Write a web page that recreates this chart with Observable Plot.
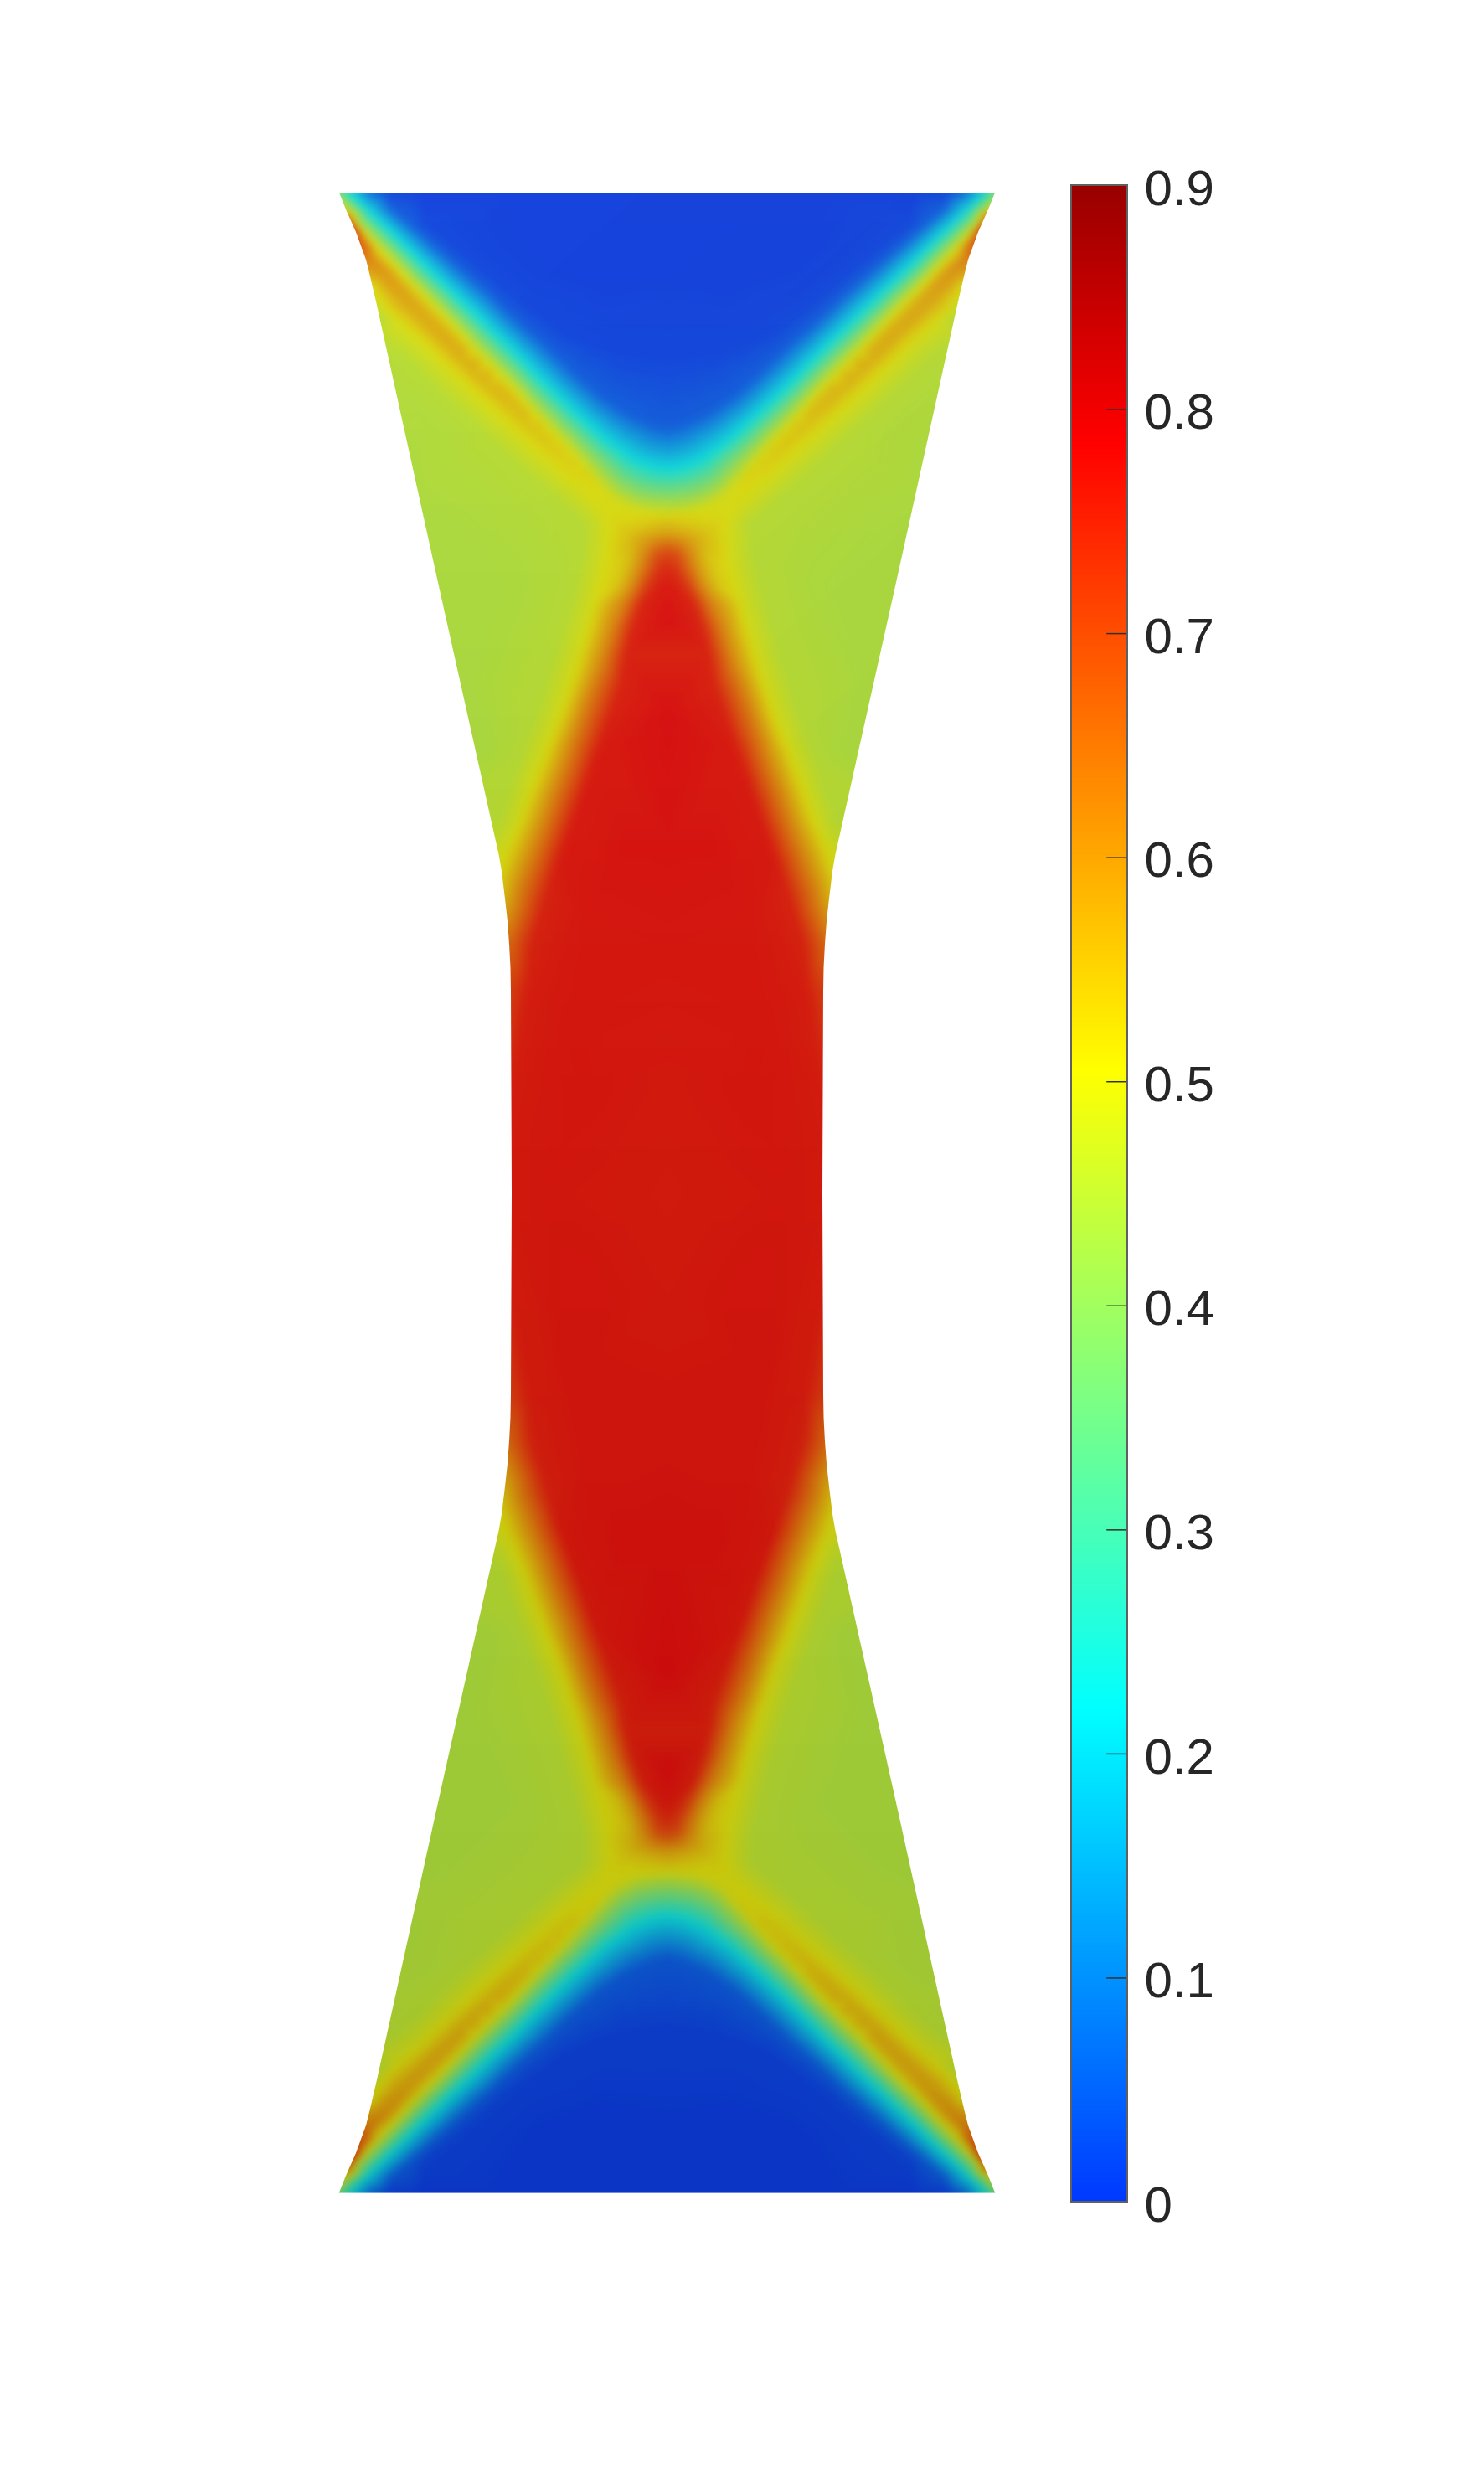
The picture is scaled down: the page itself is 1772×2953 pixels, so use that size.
<!DOCTYPE html>
<html>
<head>
<meta charset="utf-8">
<style>
html,body{margin:0;padding:0;background:#fff;}
#chart{position:relative;width:1772px;height:2953px;overflow:hidden;}
#chart svg{position:absolute;left:0;top:0;background:transparent;}
</style>
<script src="https://cdn.jsdelivr.net/npm/d3@7"></script>
<script src="https://cdn.jsdelivr.net/npm/@observablehq/plot@0.6"></script>
</head>
<body>
<div id="chart"></div>
<script>
// Colour bar
const colorStops  = [0, 0.22, 0.3625, 0.505, 0.645, 0.786, 0.9];
const colorRange  = ["#0038ff", "#00ffff", "#80ff80", "#ffff00", "#ff8000", "#ff0000", "#980000"];
const tickValues  = [0, 0.1, 0.2, 0.3, 0.4, 0.5, 0.6, 0.7, 0.8, 0.9];
const tickLabels  = ["0", "0.1", "0.2", "0.3", "0.4", "0.5", "0.6", "0.7", "0.8", "0.9"];

// Specimen outline, upper-left quarter: [y, x]
const outlineUpperLeft = [
  [222,402],[230,405],[250,413],[277,425],[310,437],[330,442],[343,445],[360,449],[700,524],[1000,591],[1020,595.5],[1040,599],
  [1073,603],[1100,606],[1127,608],[1155,609.5],[1183,610],[1300,610.5],[1424,611]
];

// Field samples, upper-left quarter: [x, y, value]
const deepBlue = [[500,230,.003],[600,230,.003],[700,230,.003],[796.5,230,.003],[650,300,.003],[796.5,330,.005],[720,340,.005]];
const blueL3 = [[462,230,.012],[507,265,.012],[551,300,.012],[593,335,.012],[635,370,.012],[670,395,.012],[705,412,.012],[740,423,.012],[770,428,.012],[796.5,430,.012]];
const blueL2 = [[445,230,.045],[469,250,.045],[493,270,.045],[516,290,.045],[539,310,.045],[562,330,.045],[585,350,.045],[605,370,.045],[627,390,.045],[650,410,.045],[671,430,.045],[692,450,.045],[715,470,.045],[737,485,.045],[757,497,.045],[777,505,.045],[796.5,510,.045]];
const cyanLine = [[417,230,.22],[438,250,.22],[459,270,.22],[480,290,.22],[500,310,.22],[521,330,.22],[542,350,.22],[563,370,.22],[583,390,.22],[604,410,.22],[624,430,.22],[643,450,.22],[663,470,.22],[684,490,.22],[706,510,.22],[723,525,.22],[740,537,.22],[752,546,.22],[765,552,.22],[778,557,.22],[788,559,.22],[796.5,560,.22]];
const upperYellow = [[413,250,.5],[423,265,.5],[437,280,.5],[451,295,.5],[465,310,.5],[479,325,.5],[493,340,.5],[508,355,.5],[523,370,.5],[537,385,.5],[551,400,.5],[567,417,.5],[582,432,.5],[597,447,.5],[607,457,.5],[621,472,.5],[632,485,.5],[643,497,.5],[657,512,.5],[670,525,.5],[683,540,.5],[696,555,.5],[708,570,.5],[722,585,.5],[735,597,.5],[750,605,.5],[765,610,.5],[780,612,.5],[796.5,613,.5]];
const corner = [[405,230,.36],[410,230,.3],[409,240,.42],[417,258,.62]];
const orangeTip = [[422,270,.72],[431,290,.7],[443,310,.63],[436,312,.62]];
const orangeLow = [[446,322,.6],[459,336,.59],[472,350,.58],[485,364,.575],[498,377,.572],[513,392,.57],[528,407,.568],[538,417,.566],[553,432,.562],[568,447,.558],[583,462,.554],[598,477,.55],[613,492,.544],[628,507,.538],[641,520,.532],[654,533,.527],[669,548,.522],[684,563,.516]];
const orangeHigh = [[461,322,.6],[474,336,.59],[487,350,.58],[500,364,.575],[513,377,.572],[528,392,.57],[543,407,.568],[553,417,.566],[568,432,.562],[583,447,.558],[598,462,.554],[613,477,.55],[628,492,.544],[643,507,.538],[656,520,.532],[669,533,.527],[684,548,.522],[699,563,.516],[708,578,.51]];
const lowerYellow = [[445,343,.5],[453,358,.5],[462,373,.5],[477,385,.5],[490,396,.5],[503,407,.5],[518,422,.5],[533,437,.5],[550,453,.5],[567,470,.5],[585,486,.5],[603,503,.5],[623,521,.5],[643,540,.5],[661,556,.5],[680,573,.5],[696,587,.5],[710,600,.5],[719,613,.5],[725,627,.5],[725,640,.5],[723,663,.5]];
const diamondYellow = [[717,690,.5],[710,717,.5],[702,747,.5],[693,777,.5],[682,813,.5],[670,850,.5],[660,875,.5],[650,900,.5],[635,940,.5],[621,979,.5],[612,1000,.5],[603,1020,.5],[597,1040,.5]];
const plateau = [
  [455,380,.455],[485,430,.455],[515,460,.455],[549,493,.455],[585,526,.455],[625,563,.455],[662,596,.455],[695,625,.455],[693,663,.455],[680,717,.455],[663,777,.455],[640,850,.455],[617,913,.455],[595,979,.455],
  [468,450,.45],[500,500,.445],[545,640,.44],[600,700,.44],[520,700,.44],[560,800,.44],[580,900,.44]
];
const junction = [
  [796.5,630,.56],[740,630,.52],[770,630,.54],
  [796.5,640,.6],[775,640,.58],[755,640,.55],
  [796.5,653,.68],[785,653,.66],[772,653,.61],[757,653,.56],[740,653,.53],
  [796.5,665,.72],[785,665,.71],[770,665,.63],[750,665,.54],
  [796.5,677,.75],[785,677,.73],[770,677,.65],[752,677,.56],[738,677,.52],
  [787,700,.77],[770,700,.72],[755,700,.62],[735,700,.53]
];
const orangeFlank = [[745,720,.63],[732,750,.63],[720,790,.63],[708,820,.63],[697,850,.63],[686,882,.63],[676,913,.63],[662,950,.63],[650,985,.63],[637,1020,.63],[622,1060,.63]];
const redFlank = [[796.5,703,.775],[765,722,.76],[755,750,.76],[748,778,.76],[740,820,.76],[725,865,.765],[708,913,.77],[690,965,.77],[670,1020,.77],[655,1060,.76],[645,1095,.76],[635,1127,.76],[630,1183,.765]];
const redCore = [[796.5,737,.785],[796.5,850,.785],[796.5,1000,.78],[796.5,1150,.775],[796.5,1300,.77],[796.5,1424,.767],[750,1000,.78],[700,1100,.775],[680,1200,.775],[700,1300,.775],[650,1300,.772],[720,1424,.77],[650,1424,.772]];
const neckEdge = [[603,1073,.56],[608,1127,.66],[610,1183,.72],[611,1300,.765],[611,1424,.77]];
const outerEdge = [[395,230,.36],[400,260,.7],[415,300,.66],[425,345,.5],[440,400,.455],[480,600,.44],[540,800,.44],[560,950,.455],[575,1040,.5],[585,1090,.6],[590,1150,.7],[590,1300,.765],[590,1424,.77]];

// Lighting: [x, y, black veil, white veil]
const shading = [
  [395,230,.13,.105],[1198,230,.15,.105],
  [395,1424,.185,.067],[1198,1424,.185,.067],
  [395,2618,.23,.06],[1198,2618,.23,.06]
];

const cx = 796.5, cy = 1424;
const quarter = [...deepBlue,...blueL3,...blueL2,...cyanLine,...upperYellow,...corner,...orangeTip,...orangeLow,...orangeHigh,...lowerYellow,...diamondYellow,...plateau,...junction,...orangeFlank,...redFlank,...redCore,...neckEdge,...outerEdge];
const seen = new Set(), field = [];
for (const [x,y,v] of quarter) for (const px of [x, 2*cx-x]) for (const py of [y, 2*cy-y]) {
  const k = px+"|"+py;
  if (!seen.has(k)) { seen.add(k); field.push({x:px, y:py, v}); }
}
const outline = [
  ...outlineUpperLeft.map(([y,x]) => ({y, left:x, right:2*cx-x})),
  ...outlineUpperLeft.slice(0,-1).reverse().map(([y,x]) => ({y:2*cy-y, left:x, right:2*cx-x}))
];
const shade = shading.map(([x,y,k,w]) => ({x,y,k,w}));

const colorScale = {type:"linear", domain:colorStops, range:colorRange, interpolate:"rgb", clamp:true};
const rasterBox = {x1:395, x2:1198, y1:230, y2:2618};

const specimen = Plot.plot({
  width:1772, height:2953, margin:0,
  x:{domain:[0,1772], range:[0,1772], axis:null},
  y:{domain:[0,2953], range:[0,2953], axis:null},
  color:colorScale,
  opacity:{type:"linear", domain:[0,1], range:[0,1]},
  style:{background:"transparent"},
  marks:[
    Plot.raster(field, {x:"x", y:"y", fill:"v", interpolate:"barycentric", pixelSize:1, blur:4, ...rasterBox}),
    Plot.raster(shade, {x:"x", y:"y", fill:"white", fillOpacity:"w", interpolate:"barycentric", pixelSize:1, ...rasterBox}),
    Plot.raster(shade, {x:"x", y:"y", fill:"black", fillOpacity:"k", interpolate:"barycentric", pixelSize:1, ...rasterBox}),
    Plot.areaX(outline, {y:"y", x1:()=>380, x2:"left", fill:"white"}),
    Plot.areaX(outline, {y:"y", x1:"right", x2:()=>1220, fill:"white"})
  ]
});

const colorbar = Plot.plot({
  width:1772, height:2953, margin:0,
  x:{domain:[0,1], range:[1279,1346], axis:null},
  y:{domain:[0,0.9], range:[2629,221], axis:null},
  color:colorScale,
  style:{background:"transparent"},
  marks:[
    Plot.raster({fill:(x,y)=>y, x1:0, x2:1, y1:0, y2:0.9, pixelSize:1}),
    Plot.ruleY(tickValues.slice(1,-1), {x1:0.63, x2:1, stroke:"#303030", strokeWidth:1.5}),
    Plot.rect([0], {x1:()=>0, x2:()=>1, y1:()=>0, y2:()=>0.9, fill:"none", stroke:"#606060", strokeWidth:2}),
    Plot.text(tickLabels, {x:()=>1, y:(d,i)=>tickValues[i], text:d=>d, dx:20, dy:4, textAnchor:"start", fontSize:60, fontFamily:"Liberation Sans, Arial, sans-serif", fill:"#262626"})
  ]
});

document.getElementById("chart").append(specimen, colorbar);
</script>
</body>
</html>
